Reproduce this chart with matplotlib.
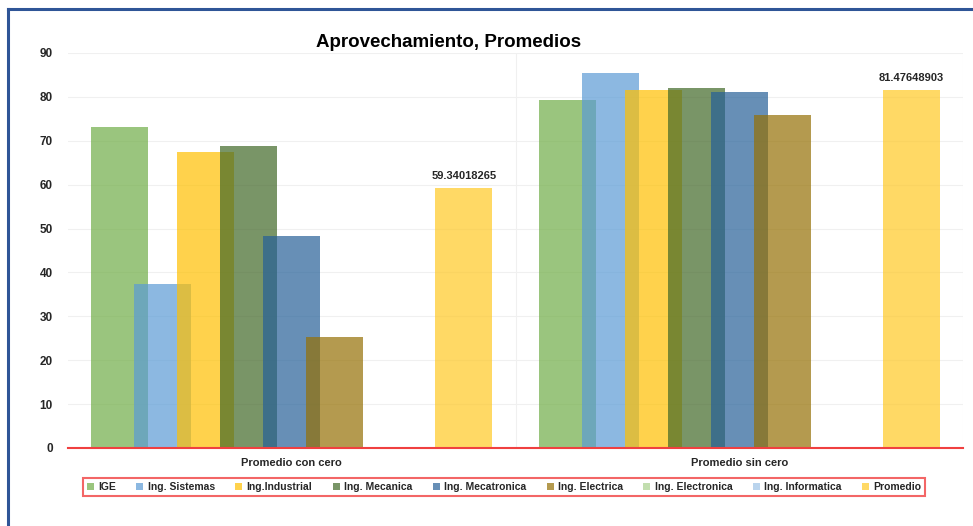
import matplotlib
matplotlib.use("Agg")
import matplotlib.pyplot as plt
from matplotlib.lines import Line2D
import numpy as np

plt.rcParams['font.family'] = ['Liberation Sans', 'DejaVu Sans']
plt.rcParams['font.weight'] = 'bold'

categories = ["Promedio con cero", "Promedio sin cero"]
series_names = ["IGE", "Ing. Sistemas", "Ing.Industrial", "Ing. Mecanica",
                "Ing. Mecatronica", "Ing. Electrica", "Ing. Electronica",
                "Ing. Informatica", "Promedio"]
ige = [73.1, 79.4]
sistemas = [37.4, 85.4]
industrial = [67.4, 81.6]
mecanica = [68.9, 82.1]
mecatronica = [48.4, 81.1]
electrica = [25.2, 75.8]
electronica = [0, 0]
informatica = [0, 0]
promedio = [59.34018265, 81.47648903]
values = [ige, sistemas, industrial, mecanica, mecatronica, electrica,
          electronica, informatica, promedio]
colors = ["#70AD47", "#5B9BD5", "#FFC000", "#416827", "#266098", "#957004",
          "#A9D08E", "#9DC3E6", "#FFC924"]
yticks = [0, 10, 20, 30, 40, 50, 60, 70, 80, 90]

fig = plt.figure(figsize=(9.73, 5.26), dpi=100)
ax = fig.add_axes([68/973, 1-448/526, (963-68)/973, (448-53)/526])

x = np.arange(len(categories))
width = 57/447.5
step = 43/447.5
bars_list = []
for i, (name, vals, c) in enumerate(zip(series_names, values, colors)):
    b = ax.bar(x + (i-4)*step, vals, width, color=c, alpha=0.7, label=name,
               linewidth=0, zorder=2)
    bars_list.append(b)

ax.bar_label(bars_list[-1], labels=[f"{v:.8f}" for v in promedio], padding=5,
             fontsize=8, fontweight='bold', color='#262626')

ax.set_xlim(-0.5, 1.5)
ax.set_ylim(0, 90)
ax.set_yticks(yticks)
ax.set_yticklabels([str(t) for t in yticks], fontsize=8.5, fontweight='bold', color='#262626')
ax.set_xticks(x)
ax.set_xticklabels(categories, fontsize=8, fontweight='bold', color='#262626')
ax.tick_params(axis='y', length=0, pad=11)
ax.tick_params(axis='x', length=0, pad=7.5)
ax.grid(axis='y', color='#F0F0F0', linewidth=0.8, zorder=0)
ax.axvline(0.5, color='#F0F0F0', linewidth=0.8, zorder=0)
ax.axvline(1.5, color='#F0F0F0', linewidth=0.8, zorder=0)
for s in ['top', 'right', 'left']:
    ax.spines[s].set_visible(False)
ax.spines['bottom'].set_color('#F04040')
ax.spines['bottom'].set_linewidth(1.5)

ax.set_title("Aprovechamiento, Promedios", fontsize=13.5, fontweight='bold',
             color='black', pad=4.5, x=(449-68)/(963-68))

leg = fig.legend(loc='center', bbox_to_anchor=(504/973, 1-487/526), ncol=9,
                 fontsize=7.5, frameon=True, fancybox=False, handlelength=0.67,
                 handleheight=0.67, handletextpad=0.4, columnspacing=1.97,
                 borderpad=0.4)
leg.get_frame().set_edgecolor('#F04040')
leg.get_frame().set_linewidth(1.5)
for t in leg.get_texts():
    t.set_fontweight('bold')
    t.set_color('#262626')

# outer frame
fig.add_artist(Line2D([8/973, 8/973], [1-9/526, -0.05], transform=fig.transFigure,
                      color='#2F5597', linewidth=2.2))
fig.add_artist(Line2D([8/973, 1.05], [1-9/526, 1-9/526], transform=fig.transFigure,
                      color='#2F5597', linewidth=2.2))

fig.savefig("out.png", dpi=100)
